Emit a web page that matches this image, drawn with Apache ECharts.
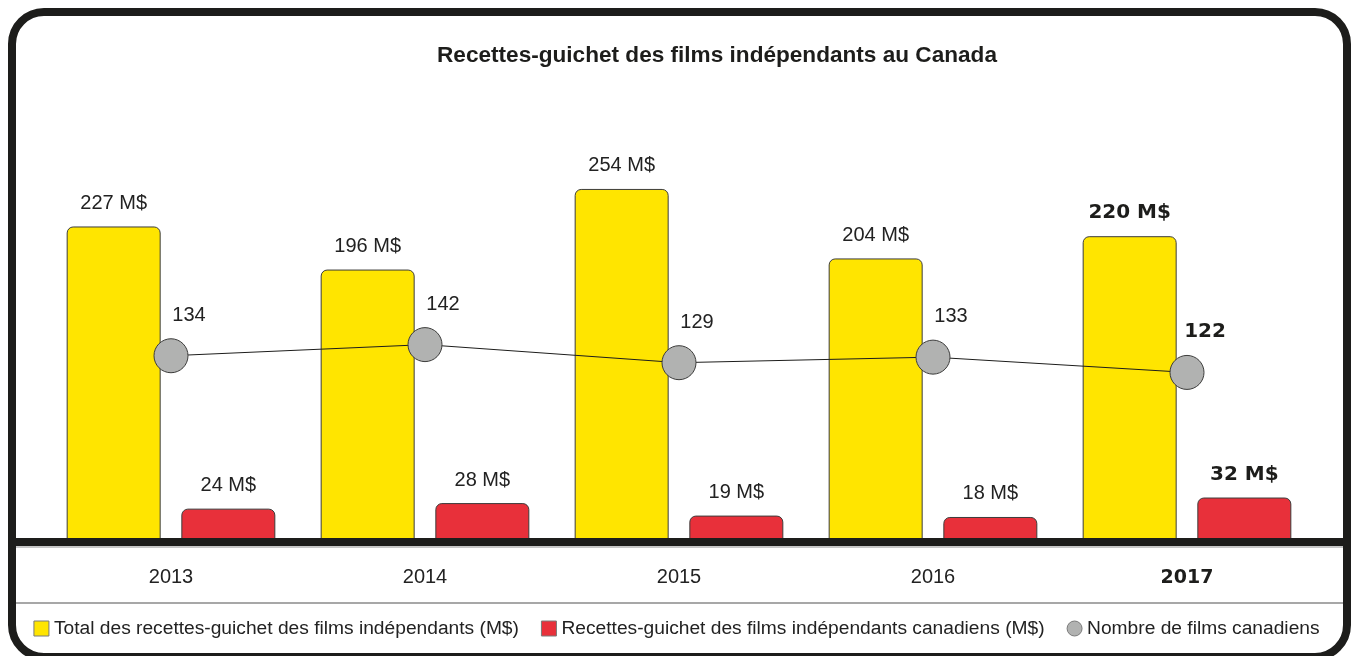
<!DOCTYPE html>
<html lang="fr" style="height: 100%">
<head>
  <meta charset="utf-8">
</head>
<body style="height: 100%; margin: 0; background: #fff">
  <div id="container" style="width: 1353px; height: 656px"></div>

  <script type="text/javascript" src="https://fastly.jsdelivr.net/npm/echarts@6.0.0/dist/echarts.min.js"></script>
  <script type="text/javascript">
    // data
    var years = ['2013', '2014', '2015', '2016', '2017'];
    var totalRecettes = [227, 196, 254, 204, 220];
    var recettesCanadiens = [24, 28, 19, 18, 32];
    var nombreFilms = [134, 142, 129, 133, 122];
    var highlightYear = '2017';

    var FONT = '"Liberation Sans", Arial, sans-serif';
    var BOLD_FONT = '"DejaVu Sans", sans-serif';
    var INK = '#1d1d1b';

    var dom = document.getElementById('container');
    var myChart = echarts.init(dom, null, { renderer: 'canvas' });

    // last year gets the heavy label style
    function withHighlight(values) {
      return values.map(function (v, i) {
        if (years[i] !== highlightYear) return v;
        return {
          value: v,
          label: { fontFamily: BOLD_FONT, fontWeight: 'bold', fontSize: 20, color: INK }
        };
      });
    }

    var option = {
      animation: false,
      title: {
        text: 'Recettes-guichet des films indépendants au Canada',
        left: 432,
        top: 39,
        textStyle: { fontFamily: FONT, fontSize: 22.6, fontWeight: 'bold', color: INK }
      },
      legend: {
        bottom: 13,
        left: 'center',
        itemWidth: 15,
        itemHeight: 15,
        itemGap: 22,
        itemStyle: { borderColor: '#7a7a7a', borderWidth: 1 },
        textStyle: { fontFamily: FONT, fontSize: 19.2, color: '#222' },
        data: [
          { name: 'Total des recettes-guichet des films indépendants (M$)', icon: 'rect' },
          { name: 'Recettes-guichet des films indépendants canadiens (M$)', icon: 'rect' },
          { name: 'Nombre de films canadiens', icon: 'circle' }
        ]
      },
      grid: { left: 44, right: 39, top: 125, bottom: 114 },
      xAxis: {
        type: 'category',
        data: years,
        axisLine: { show: false },
        axisTick: { show: false },
        axisLabel: {
          margin: 23,
          formatter: function (v) {
            return v === highlightYear ? '{b|' + v + '}' : '{n|' + v + '}';
          },
          rich: {
            n: { fontFamily: FONT, fontSize: 20, color: '#222', lineHeight: 24, verticalAlign: 'middle' },
            b: { fontFamily: BOLD_FONT, fontWeight: 'bold', fontSize: 19, color: INK, lineHeight: 24, verticalAlign: 'middle', padding: [3, 0, 0, 0] }
          }
        }
      },
      yAxis: {
        type: 'value',
        min: 0,
        max: 300,
        show: false
      },
      series: [
        {
          name: 'Total des recettes-guichet des films indépendants (M$)',
          type: 'bar',
          barWidth: 94,
          barGap: '22%',
          data: withHighlight(totalRecettes),
          itemStyle: {
            color: '#ffe500',
            borderColor: '#3c3c3b',
            borderWidth: 1,
            borderRadius: [6, 6, 0, 0]
          },
          label: {
            show: true,
            position: 'top',
            distance: 13,
            fontFamily: FONT,
            fontSize: 20,
            color: '#222',
            formatter: '{c} M$'
          }
        },
        {
          name: 'Recettes-guichet des films indépendants canadiens (M$)',
          type: 'bar',
          barWidth: 94,
          data: withHighlight(recettesCanadiens),
          itemStyle: {
            color: '#e8303a',
            borderColor: '#3c3c3b',
            borderWidth: 1,
            borderRadius: [6, 6, 0, 0]
          },
          label: {
            show: true,
            position: 'top',
            distance: 13,
            fontFamily: FONT,
            fontSize: 20,
            color: '#222',
            formatter: '{c} M$'
          }
        },
        {
          name: 'Nombre de films canadiens',
          type: 'line',
          data: withHighlight(nombreFilms),
          symbol: 'circle',
          symbolSize: 34,
          itemStyle: { color: '#b1b2b1', borderColor: '#3c3c3b', borderWidth: 1 },
          lineStyle: { color: INK, width: 1 },
          label: {
            show: true,
            position: 'top',
            distance: 13,
            offset: [18, 0],
            fontFamily: FONT,
            fontSize: 20,
            color: '#222'
          },
          z: 3
        }
      ],
      graphic: [
        {
          type: 'rect',
          shape: { x: 12, y: 12, width: 1335, height: 645, r: 32 },
          style: { fill: 'none', stroke: INK, lineWidth: 8 },
          silent: true
        },
        {
          type: 'line',
          shape: { x1: 16, y1: 542, x2: 1343, y2: 542 },
          style: { stroke: INK, lineWidth: 8 },
          z: 10,
          silent: true
        },
        {
          type: 'line',
          shape: { x1: 16, y1: 547, x2: 1343, y2: 547 },
          style: { stroke: '#b5b5b5', lineWidth: 1.5 },
          silent: true
        },
        {
          type: 'line',
          shape: { x1: 16, y1: 603, x2: 1343, y2: 603 },
          style: { stroke: '#8a8a8a', lineWidth: 1.5 },
          silent: true
        }
      ]
    };

    myChart.setOption(option);
    window.addEventListener('resize', myChart.resize);
  </script>
</body>
</html>
